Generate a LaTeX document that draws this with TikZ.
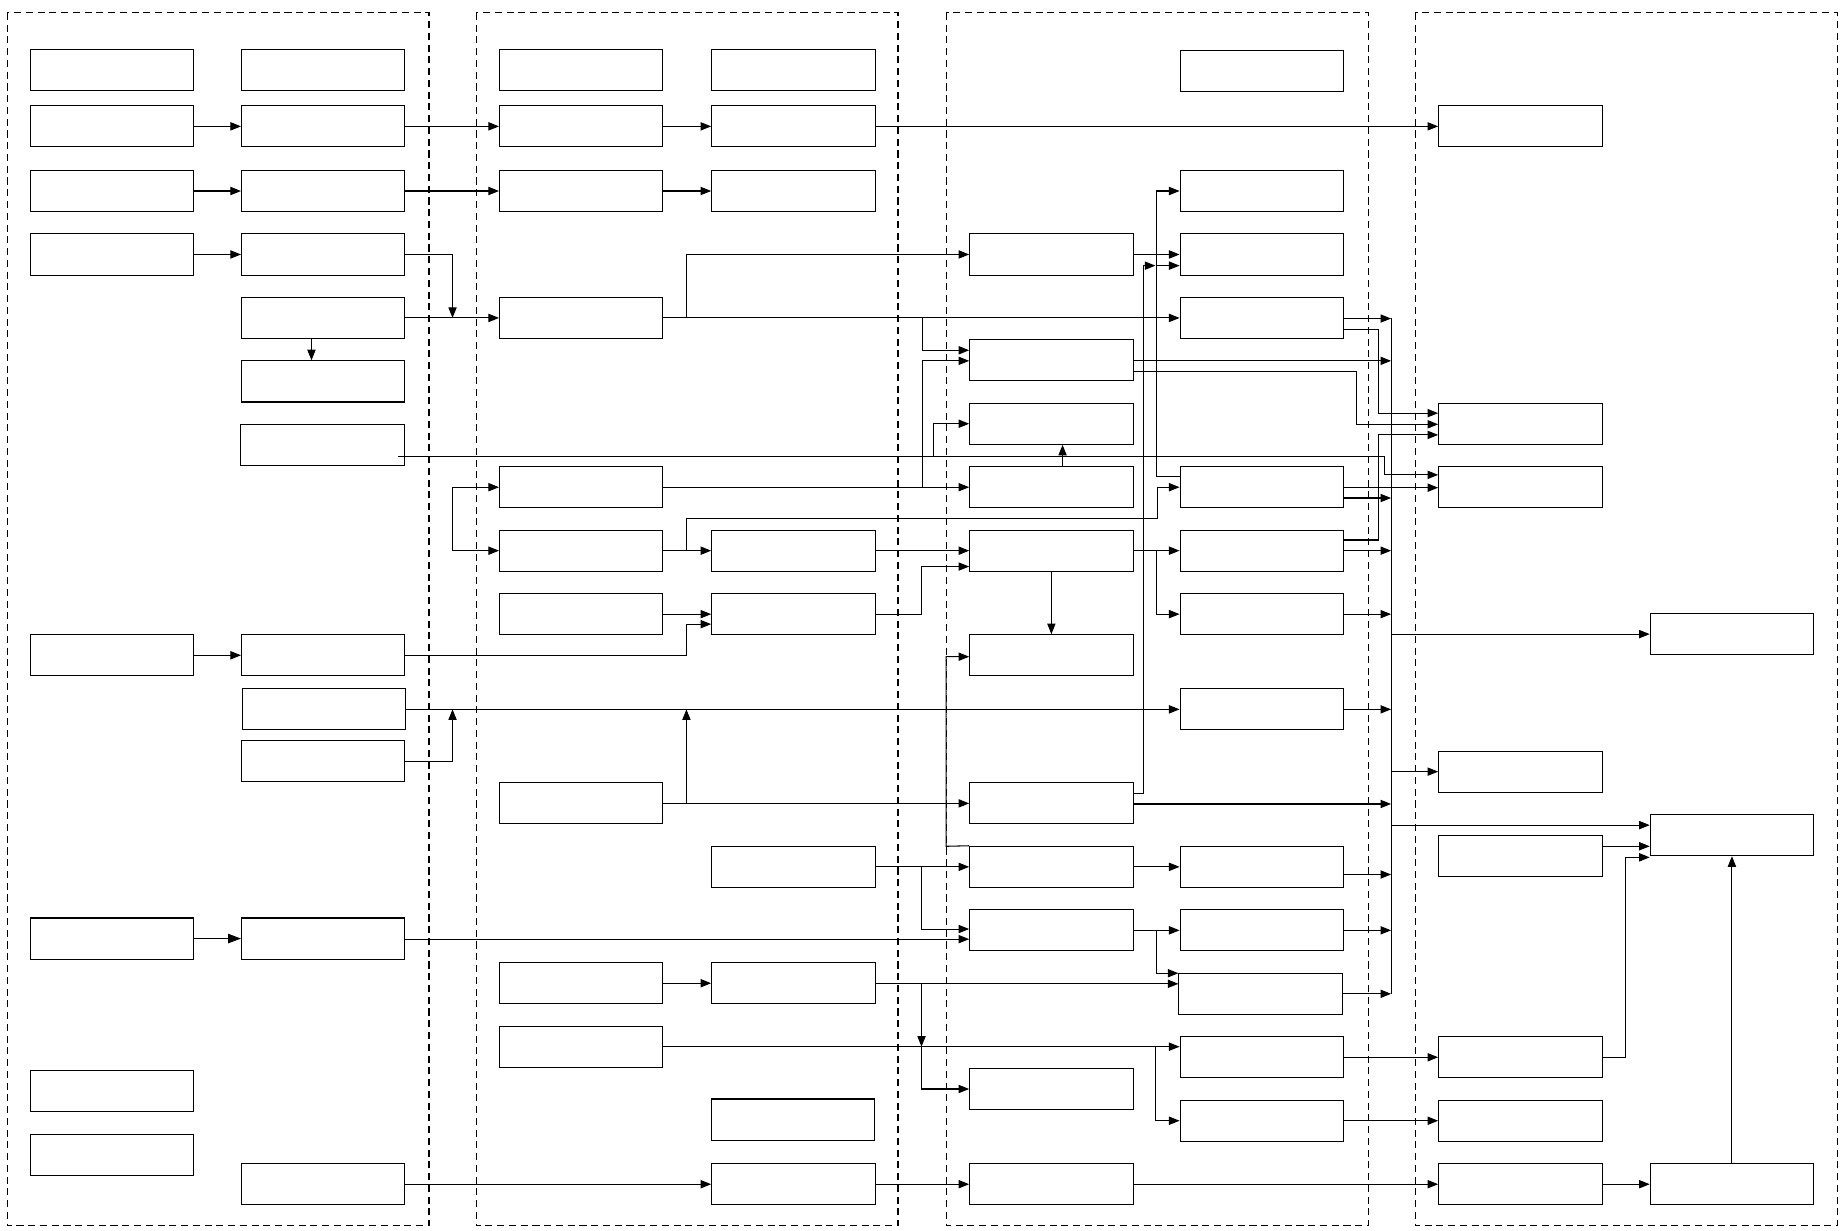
\documentclass[tikz,border=0pt]{standalone}
\usetikzlibrary{arrows.meta}
\tikzset{
  bx/.style={draw, minimum width=139pt, minimum height=35pt, inner sep=0pt, line width=0.9pt},
  arr/.style={-{Triangle[length=9pt,width=7pt]}, line width=0.9pt},
  arrbig/.style={-{Triangle[length=11pt,width=8pt]}, line width=0.9pt},
  ln/.style={line width=0.9pt},
  panel/.style={draw, dash pattern=on 6pt off 4pt, line width=0.9pt}
}
\newcommand\bxat[3]{\node[bx] (#1) at (#2,#3) {};}
\begin{document}
\begin{tikzpicture}[x=1pt,y=-1pt]
\useasboundingbox (0,0) rectangle (1568,1047);
% panels
\draw[panel] (6,11) rectangle (365,1043);
\draw[panel] (405,11) rectangle (764,1043);
\draw[panel] (805,11) rectangle (1164,1043);
\draw[panel] (1204,11) rectangle (1563,1043);
% column 1 left
\bxat{a1}{95.5}{59.5}
\bxat{a2}{95.5}{107.5}
\bxat{a3}{95.5}{162.5}
\bxat{a4}{95.5}{216.5}
\bxat{a5}{95.5}{557.5}
\bxat{a6}{95.5}{798.5}
\bxat{a7}{95.5}{928.5}
\bxat{a8}{95.5}{982.5}
% column 1 right
\bxat{b1}{275}{59.5}
\bxat{b2}{275}{107.5}
\bxat{b3}{275}{162.5}
\bxat{b4}{275}{216.5}
\bxat{b5}{275}{270.5}
\bxat{b6}{275}{324.5}
\bxat{b7}{274.5}{378.5}
\bxat{b8}{275}{557.5}
\bxat{b9}{275.5}{603.5}
\bxat{b10}{275}{647.5}
\bxat{b11}{275}{798.5}
\bxat{b12}{275}{1007.5}
% column 2 left
\bxat{c1}{494.5}{59.5}
\bxat{c2}{494.5}{107.5}
\bxat{c3}{494.5}{162.5}
\bxat{c4}{494.5}{270.5}
\bxat{c5}{494.5}{414.5}
\bxat{c6}{494.5}{468.5}
\bxat{c7}{494.5}{522.5}
\bxat{c8}{494.5}{683.5}
\bxat{c9}{494.5}{836.5}
\bxat{c10}{494.5}{890.5}
% column 2 right
\bxat{d1}{675}{59.5}
\bxat{d2}{675}{107.5}
\bxat{d3}{675}{162.5}
\bxat{d4}{675}{468.5}
\bxat{d5}{675}{522.5}
\bxat{d6}{675}{737.5}
\bxat{d7}{675}{836.5}
\bxat{d8}{674.5}{952.5}
\bxat{d9}{675}{1007.5}
% column 3 left
\bxat{e1}{894.5}{216.5}
\bxat{e2}{894.5}{306.5}
\bxat{e3}{894.5}{360.5}
\bxat{e4}{894.5}{414.5}
\bxat{e5}{894.5}{468.5}
\bxat{e6}{894.5}{557.5}
\bxat{e7}{894.5}{683.5}
\bxat{e8}{894.5}{737.5}
\bxat{e9}{894.5}{791.5}
\bxat{e10}{894.5}{926.5}
\bxat{e11}{894.5}{1007.5}
% column 3 right
\bxat{f1}{1073.5}{60.5}
\bxat{f2}{1073.5}{162.5}
\bxat{f3}{1073.5}{216.5}
\bxat{f4}{1073.5}{270.5}
\bxat{f5}{1073.5}{414.5}
\bxat{f6}{1073.5}{468.5}
\bxat{f7}{1073.5}{522.5}
\bxat{f8}{1073.5}{603.5}
\bxat{f9}{1073.5}{737.5}
\bxat{f10}{1073.5}{791.5}
\bxat{f11}{1072.5}{845.5}
\bxat{f12}{1073.5}{899.5}
\bxat{f13}{1073.5}{953.5}
% column 4 left
\bxat{g1}{1293.5}{107.5}
\bxat{g2}{1293.5}{360.5}
\bxat{g3}{1293.5}{414.5}
\bxat{g4}{1293.5}{656.5}
\bxat{g5}{1293.5}{728.5}
\bxat{g6}{1293.5}{899.5}
\bxat{g7}{1293.5}{953.5}
\bxat{g8}{1293.5}{1007.5}
% column 4 right
\bxat{h1}{1473.5}{539.5}
\bxat{h2}{1473.5}{710.5}
\bxat{h3}{1473.5}{1007.5}
% helper coordinates
\coordinate (j1) at (385,270.5);
\coordinate (b7o) at (339,388);
\coordinate (br1) at (385,441.5);
\coordinate (k1) at (983,226);
\coordinate (bus) at (1183.5,0);
% column 1 connectors
\draw[arr] (a2) -- (b2);
\draw[arr] (a3) -- (b3);
\draw[arr] (a4) -- (b4);
\draw[arr] (a5) -- (b8);
\draw[arrbig] (a6) -- (b11);
\draw[arr] (b2) -- (c2);
\draw[arr] (b3) -- (c3);
\draw[arr] (b4.east) -| (j1);
\draw[arr] (b5) -- (c4);
\draw[arr] (b5.south -| 265,0) -- (b6.north -| 265,0);
\draw[arr] (b7o) -- (1178,388) -- (1178,404) -- (g3.west |- 0,404);
\draw[arr] (794,388) |- (e3.west);
% column 2 connectors
\draw[arr] (c2) -- (d2);
\draw[arr] (d2) -- (g1);
\draw[arr] (c3) -- (d3);
\draw[arr] (c4) -- (f4);
\draw[arr] (584,270.5) |- (e1.west);
\draw[arr] (785,270.5) |- (e2.west |- 0,298);
\draw[arr] (c5) -- (e4);
\draw[arr] (785,414.5) |- (e2.west |- 0,307);
\draw[arr] (br1) |- (c5.west);
\draw[arr] (br1) |- (c6.west);
\draw[arr] (c6) -- (d4);
\draw[arr] (584,468.5) |- (985,441.5) |- (f5.west);
\draw[arr] (c7) -- (d5);
\draw[arr] (b8.east) -- (584,557.5) |- (d5.west |- 0,531);
\draw[arr] (d4) -- (e5);
\draw[arr] (d5.east) -- (784,522.5) |- (e5.west |- 0,482);
\draw[arr] (c8) -- (e7);
\draw[arr] (584,683.5) -- (584,603.5);
\draw[arr] (b9) -- (f8);
\draw[arr] (b10.east) -| (385,603.5);
% column 3 connectors
\draw[arr] (e5) -- (e6);
\draw[arr] (e5) -- (f6);
\draw[arr] (984,468.5) |- (f7.west);
\draw[arr] (e1) -- (f3);
\draw[arr] (f5.west |- 0,405) -- (984,405) |- (f2.west);
\draw[arr] (984,226) -- (f3.west |- 0,226);
\draw[arr] (e7.east |- 0,675) -- (972.6,675) -- (972.6,226) -- (k1);
\draw[arr] (e4.north -| 904,0) -- (e3.south -| 904,0);
\draw[arr] (e8.north west) -- (805,720) |- (e6.west |- 0,558.7);
% bus
\draw[ln] (1183.5,270.5) -- (1183.5,846);
\draw[arr] (f4.east |- 0,271) -- (bus |- 0,271);
\draw[arr] (e2.east |- 0,307) -- (bus |- 0,307);
\draw[arr] (f5.east |- 0,423.7) -- (bus |- 0,423.7);
\draw[arr] (f6) -- (bus |- f6);
\draw[arr] (f7) -- (bus |- f7);
\draw[arr] (f8) -- (bus |- f8);
\draw[arr] (e7.east |- 0,684) -- (bus |- 0,684);
\draw[arr] (f9.east |- 0,744) -- (bus |- 0,744);
\draw[arr] (f10) -- (bus |- f10);
\draw[arr] (f11) -- (bus |- f11);
\draw[arr] (bus |- h1) -- (h1);
\draw[arr] (bus |- g4) -- (g4);
\draw[arr] (bus |- 0,702) -- (h2.west |- 0,702);
% into g2 and g3
\draw[arr] (f4.east |- 0,280) -- (1173,280) |- (g2.west |- 0,351.5);
\draw[arr] (e2.east |- 0,315.7) -- (1153.7,315.7) |- (g2.west |- 0,361);
\draw[arr] (f6.east |- 0,459.4) -- (1173,459.4) |- (g2.west |- 0,370);
\draw[arr] (f5.east |- 0,414.9) -- (g3.west |- 0,414.9);
% lower part
\draw[arr] (d6) -- (e8);
\draw[arr] (783.6,737.5) |- (e9.west |- 0,790.4);
\draw[arr] (e8) -- (f9);
\draw[arr] (b11.east |- 0,799) -- (e9.west |- 0,799);
\draw[arr] (e9) -- (f10);
\draw[arr] (984,791.5) |- (f11.west |- 0,828);
\draw[arr] (c9) -- (d7);
\draw[arr] (d7.east |- 0,837) -- (f11.west |- 0,837);
\draw[arr] (784,837) -- (784,890.5);
\draw[arr] (784,890.5) |- (e10.west);
\draw[arr] (c10.east) -- (f12.west |- c10.east);
\draw[arr] (983,890.5) |- (f13.west);
\draw[arr] (f12) -- (g6);
\draw[arr] (f13) -- (g7);
\draw[arr] (g6.east) -- (1383,899.5) |- (h2.west |- 0,729.4);
\draw[arr] (g5.east |- 0,720) -- (h2.west |- 0,720);
\draw[arr] (b12) -- (d9);
\draw[arr] (d9) -- (e11);
\draw[arr] (e11) -- (g8);
\draw[arr] (g8) -- (h3);
\draw[arr] (h3) -- (h2);
\end{tikzpicture}
\end{document}
